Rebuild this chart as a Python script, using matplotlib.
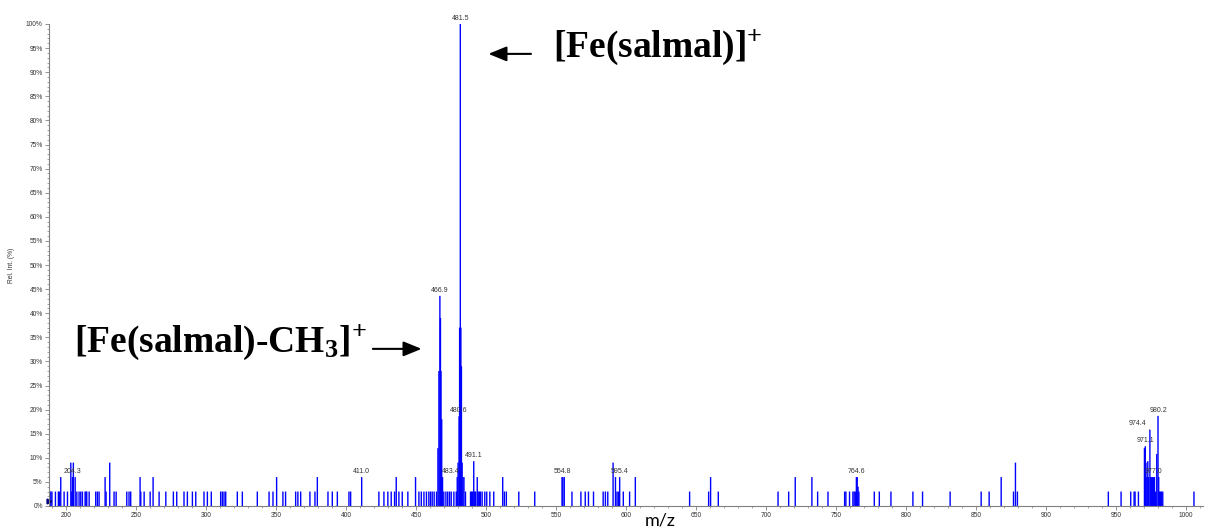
import matplotlib
matplotlib.use("Agg")
import matplotlib.pyplot as plt
from matplotlib.collections import LineCollection
from matplotlib.ticker import MultipleLocator, FuncFormatter

# peak list (m/z, rel. intensity in %)
mz = [188.0, 188.8, 189.6, 192.1, 194.2, 194.9, 195.9, 198.3, 200.7,
      203.1, 203.8, 204.3, 204.9, 206.2, 207.4, 209.0, 210.2, 211.4,
      213.3, 213.9, 214.5, 216.2, 220.9, 222.1, 223.3, 227.6, 228.3,
      230.9, 234.0, 235.5, 243.1, 244.7, 245.9, 252.6, 253.1, 255.5,
      259.8, 261.9, 266.2, 271.0, 276.4, 278.8, 284.0, 286.4, 290.0,
      292.4, 298.3, 300.7, 303.5, 310.2, 311.4, 312.6, 313.8, 322.1,
      325.7, 336.4, 344.8, 347.6, 350.2, 354.7, 356.6, 363.8, 365.4,
      367.4, 374.0, 377.6, 379.3, 386.9, 390.0, 393.6, 401.9, 403.1,
      411.0, 423.3, 426.9, 429.7, 432.1, 434.5, 435.7, 437.6, 440.0,
      444.0, 449.5, 451.9, 453.6, 455.5, 457.3, 459.0, 460.2, 461.4,
      462.8, 464.5, 465.5, 466.2, 466.9, 467.3, 467.7, 468.2, 468.8,
      469.7, 471.2, 472.5, 473.8, 475.0, 476.9, 478.6, 479.3, 479.9,
      480.6, 481.0, 481.5, 481.9, 482.3, 482.8, 483.4, 484.1, 485.2,
      488.8, 489.6, 490.2, 491.1, 491.8, 492.5, 493.6, 494.3, 495.1,
      495.9, 497.1, 499.0, 500.4, 502.6, 505.4, 511.8, 513.0, 514.4,
      523.3, 534.7, 554.2, 554.8, 555.8, 561.3, 567.7, 570.8, 573.1,
      576.7, 583.6, 585.2, 586.9, 590.7, 592.4, 593.5, 594.5, 595.4,
      598.0, 602.5, 606.6, 645.4, 659.0, 660.4, 665.9, 708.6, 716.2,
      720.9, 732.8, 736.9, 744.3, 756.2, 757.1, 759.7, 762.1, 763.0,
      763.8, 764.6, 765.2, 765.8, 766.4, 777.4, 781.0, 789.3, 805.0,
      811.9, 831.6, 853.8, 859.5, 868.1, 876.9, 878.3, 879.7, 944.7,
      953.8, 960.7, 963.1, 963.8, 966.2, 970.5, 971.1, 971.6, 972.2,
      972.9, 973.5, 974.4, 975.0, 975.6, 976.2, 977.0, 977.7, 978.4,
      979.3, 980.2, 980.7, 981.3, 982.0, 982.8, 983.6, 1005.9]

intensity = [3, 3, 3, 3, 3, 3, 6, 3, 3,
             9, 3, 6, 9, 6, 3, 3, 3, 3,
             3, 3, 3, 3, 3, 3, 3, 6, 3,
             9, 3, 3, 3, 3, 3, 6, 3, 3,
             3, 6, 3, 3, 3, 3, 3, 3, 3,
             3, 3, 3, 3, 3, 3, 3, 3, 3,
             3, 3, 3, 3, 6, 3, 3, 3, 3,
             3, 3, 3, 6, 3, 3, 3, 3, 3,
             6, 3, 3, 3, 3, 3, 6, 3, 3,
             3, 6, 3, 3, 3, 3, 3, 3, 3,
             3, 3, 12, 28, 43.6, 39, 28, 18, 6,
             3, 3, 3, 3, 3, 3, 3, 6, 9,
             18.6, 37, 100, 37, 29, 9, 6, 6, 3,
             3, 3, 3, 9.3, 3, 3, 6, 3, 3,
             3, 3, 3, 3, 3, 3, 6, 3, 3,
             3, 3, 6, 6, 6, 3, 3, 3, 3,
             3, 3, 3, 3, 9, 6, 3, 3, 6,
             3, 3, 6, 3, 3, 6, 3, 3, 3,
             6, 6, 3, 3, 3, 3, 3, 3, 3,
             3, 6, 6, 4, 3, 3, 3, 3, 3,
             3, 3, 3, 3, 6, 3, 9, 3, 3,
             3, 3, 3, 3, 3, 12, 12.4, 9, 6,
             9.3, 6, 15.8, 6, 6, 6, 6, 6, 3,
             10.8, 18.7, 6, 3, 3, 3, 3, 3]

labelled = [204.3, 411.0, 466.9, 480.6, 481.5, 483.4, 491.1, 554.8,
            595.4, 764.6, 971.1, 974.4, 977.0, 980.2]

fig = plt.figure(figsize=(12.08, 5.31), dpi=100)
ax = fig.add_axes([49 / 1208, 25 / 531, (1202.5 - 49) / 1208, 482 / 531])

segs = [[(m, 0), (m, v)] for m, v in zip(mz, intensity)]
lc = LineCollection(segs, colors="#0000ff", linewidths=1.0, snap=False)
ax.add_collection(lc)

ax.set_xlim(187.5, 1012)
ax.set_ylim(0, 100)

for s in ["top", "right"]:
    ax.spines[s].set_visible(False)
for s in ["left", "bottom"]:
    ax.spines[s].set_color("#808080")
    ax.spines[s].set_linewidth(0.8)

ax.xaxis.set_major_locator(MultipleLocator(50))
ax.xaxis.set_minor_locator(MultipleLocator(10))
ax.yaxis.set_major_locator(MultipleLocator(5))
ax.yaxis.set_minor_locator(MultipleLocator(1))
ax.yaxis.set_major_formatter(FuncFormatter(lambda v, p: "%d%%" % v))
ax.tick_params(axis="both", which="major", labelsize=4.8, colors="#808080",
               labelcolor="#333333", length=3, width=0.6, pad=1.5)
ax.tick_params(axis="both", which="minor", colors="#808080", length=1.5, width=0.5)
for lab in ax.get_xticklabels() + ax.get_yticklabels():
    lab.set_family("Liberation Sans")

ax.set_ylabel("Rel. Int. (%)", fontsize=4.8, family="Liberation Sans",
              color="#333333", labelpad=8)

# little marker at the start of the axis
ax.plot([187.5], [1.0], marker=">", ms=3.5, color="#000080", clip_on=False)

# peak labels
for m in labelled:
    v = intensity[mz.index(m)]
    if m == 483.4:
        ax.annotate("%.1f" % m, (m, v), xytext=(-9, 1.5), textcoords="offset points",
                    ha="center", va="bottom", fontsize=5, color="#333333",
                    family="Liberation Sans")
    elif m == 974.4:
        ax.annotate("%.1f" % m, (m, v), xytext=(-9, 2), textcoords="offset points",
                    ha="center", va="bottom", fontsize=5, color="#333333",
                    family="Liberation Sans",
                    arrowprops=dict(arrowstyle="-", color="#666666", lw=0.4,
                                    shrinkA=0, shrinkB=0))
    else:
        ax.annotate("%.1f" % m, (m, v), xytext=(0, 1.5), textcoords="offset points",
                    ha="center", va="bottom", fontsize=5, color="#333333",
                    family="Liberation Sans")

plt.rcParams["mathtext.fontset"] = "custom"
plt.rcParams["mathtext.rm"] = "Liberation Serif:bold"
plt.rcParams["mathtext.bf"] = "Liberation Serif:bold"
plt.rcParams["mathtext.it"] = "Liberation Serif:bold"

ax.annotate("", xy=(501.6, 93.8), xytext=(532, 93.8),
            arrowprops=dict(arrowstyle="-|>,head_length=1.1,head_width=0.45",
                            color="black", lw=1.5, shrinkA=0, shrinkB=0))
ax.text(548, 95.2, r"[Fe(salmal)]$^{+}$", fontsize=27, family="Liberation Serif",
        fontweight="bold", ha="left", va="center")

ax.annotate("", xy=(453.8, 32.6), xytext=(419, 32.6),
            arrowprops=dict(arrowstyle="-|>,head_length=1.1,head_width=0.45",
                            color="black", lw=1.5, shrinkA=0, shrinkB=0))
ax.text(205.2, 34.0, r"[Fe(salmal)-CH$_{3}$]$^{+}$", fontsize=27,
        family="Liberation Serif", fontweight="bold", ha="left", va="center")

fig.text(660 / 1208, 1 - 520 / 531, "m/z", fontsize=13, family="Lato",
         ha="center", va="center")

fig.savefig("out.png", dpi=100)
